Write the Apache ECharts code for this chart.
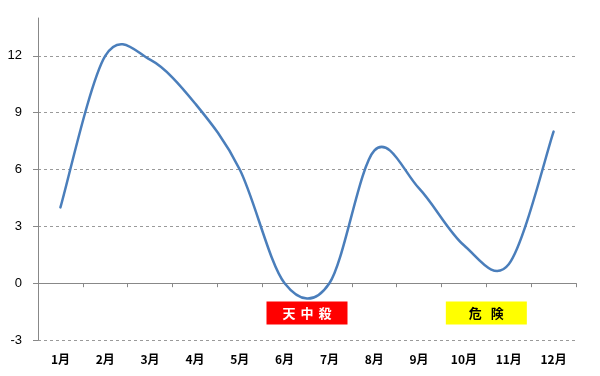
<!DOCTYPE html>
<html>
<head>
<meta charset="utf-8">
<script src="https://cdn.jsdelivr.net/npm/echarts@6/dist/echarts.min.js"></script>
<style>html,body{margin:0;padding:0;background:#fff;}#c{width:600px;height:376px;}</style>
</head>
<body>
<div id="c"></div>
<script>
var categories = ['1月','2月','3月','4月','5月','6月','7月','8月','9月','10月','11月','12月'];
var values = [4, 12, 11.8, 9.5, 6, 0, 0, 7, 5, 2, 1, 8];
var yMin = -3, yMax = 14, yStep = 3;
var badLabel = '天中殺', badMonths = ['6月', '7月'];
var warnLabel = '危険', warnMonths = ['10月', '11月'];

var chart = echarts.init(document.getElementById('c'), null, {renderer: 'canvas'});
var axisGray = '#888888';

// Excel-style smoothed line (Bezier through each data point, tangent = (next - prev) / 6)
function renderSmooth(params, api) {
  if (params.dataIndex !== 0) return null;
  var pts = values.map(function (v, i) { return api.coord([i, v]); });
  var d = 'M' + pts[0][0] + ' ' + pts[0][1];
  for (var i = 0; i < pts.length - 1; i++) {
    var p0 = pts[Math.max(i - 1, 0)], p1 = pts[i], p2 = pts[i + 1], p3 = pts[Math.min(i + 2, pts.length - 1)];
    var c1x = p1[0] + (p2[0] - p0[0]) / 6, c1y = p1[1] + (p2[1] - p0[1]) / 6;
    var c2x = p2[0] - (p3[0] - p1[0]) / 6, c2y = p2[1] - (p3[1] - p1[1]) / 6;
    d += ' C' + c1x + ' ' + c1y + ' ' + c2x + ' ' + c2y + ' ' + p2[0] + ' ' + p2[1];
  }
  return {
    type: 'path', shape: {pathData: d},
    style: {fill: 'none', stroke: '#4A7EBB', lineWidth: 2.5, lineCap: 'round', lineJoin: 'round'}
  };
}

chart.setOption({
  animation: false,
  backgroundColor: '#ffffff',
  grid: {left: 38, right: 24, top: 18, bottom: 36, containLabel: false},
  xAxis: [{
    type: 'category', data: categories, boundaryGap: true,
    axisLine: {show: true, onZero: true, lineStyle: {color: axisGray, width: 1}},
    axisTick: {show: true, length: 4, lineStyle: {color: axisGray}},
    axisLabel: {show: false}, splitLine: {show: false}
  }, {
    type: 'category', data: categories, boundaryGap: true, position: 'bottom',
    axisLine: {show: false, onZero: false}, axisTick: {show: false},
    axisLabel: {show: true, margin: 13, color: '#000', fontSize: 12, fontWeight: 'bold',
      fontFamily: '"Noto Sans CJK JP", "Liberation Sans", sans-serif'}
  }],
  yAxis: {
    type: 'value', min: yMin, max: yMax, interval: yStep,
    axisLine: {show: true, lineStyle: {color: axisGray, width: 1}},
    axisTick: {show: true, length: 5, lineStyle: {color: axisGray}},
    axisLabel: {show: true, showMaxLabel: false, margin: 16, color: '#000', fontSize: 13,
      fontFamily: '"Liberation Sans", Arial, sans-serif'},
    splitLine: {show: true, showMaxLine: false, lineStyle: {color: '#9a9a9a', type: [3, 3], width: 1}}
  },
  series: [{
    type: 'custom', xAxisIndex: 0, yAxisIndex: 0,
    data: values.map(function (v, i) { return [i, v]; }),
    renderItem: renderSmooth, clip: false,
    encode: {x: 0, y: 1}
  }]
});

function boxFor(label, months, fill, textColor, pitch) {
  var a = chart.convertToPixel({xAxisIndex: 0}, months[0]);
  var b = chart.convertToPixel({xAxisIndex: 0}, months[1]);
  var cx = (a + b) / 2, w = 81, h = 23;
  var ty = chart.convertToPixel({yAxisIndex: 0}, -1.58);
  var chars = label.split('');
  var children = [{type: 'rect', shape: {x: 0, y: 0, width: w, height: h}, style: {fill: fill}}];
  chars.forEach(function (ch, k) {
    children.push({type: 'text', x: w / 2 + (k - (chars.length - 1) / 2) * pitch, y: h / 2,
      style: {text: ch, fill: textColor, fontSize: 13, fontWeight: 'bold',
        fontFamily: '"Noto Sans CJK JP", sans-serif', align: 'center', verticalAlign: 'middle'}});
  });
  return {type: 'group', x: cx - w / 2, y: ty - h / 2, children: children};
}
chart.setOption({graphic: [
  boxFor(badLabel, badMonths, '#ff0000', '#ffffff', 18),
  boxFor(warnLabel, warnMonths, '#ffff00', '#000000', 22)
]});
</script>
</body>
</html>
